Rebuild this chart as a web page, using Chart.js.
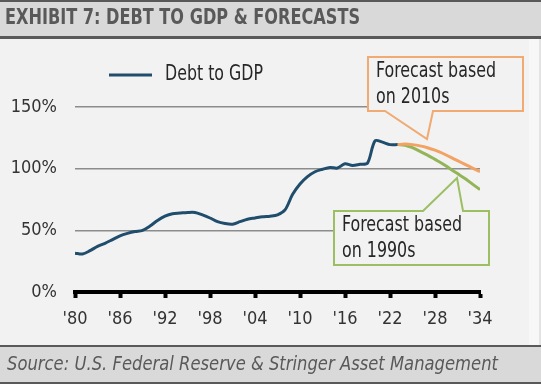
<!DOCTYPE html>
<html lang="en">
<head>
    <meta charset="UTF-8">
    <title>Debt to GDP &amp; Forecasts</title>
    <script src="https://cdn.jsdelivr.net/npm/chart.js"></script>
    <style>
        html, body { margin: 0; padding: 0; background: #f2f2f2; }
        #wrap { width: 541px; height: 384px; position: relative; }
    </style>
</head>
<body>
    <div id="wrap"><canvas id="debtChart" width="541" height="384"></canvas></div>

    <script>
        const FONT = '"Liberation Sans Narrow", "DejaVu Sans Condensed", "Roboto", sans-serif';

        // data
        const years = [1980, 1981, 1982, 1983, 1984, 1985, 1986, 1987, 1988, 1989,
                       1990, 1991, 1992, 1993, 1994, 1995, 1996, 1997, 1998, 1999,
                       2000, 2001, 2002, 2003, 2004, 2005, 2006, 2007, 2008, 2009,
                       2010, 2011, 2012, 2013, 2014, 2015, 2016, 2017, 2018, 2019,
                       2020, 2021, 2022, 2023];
        const debtToGdp = [31.5, 30.8, 33.5, 37, 39.5, 42.5, 45.5, 47.5, 49, 50,
                           53.5, 58, 61.5, 63.5, 64, 64.5, 64.5, 62.5, 60, 57,
                           55.5, 55, 57, 59, 60, 61, 61.5, 62.5, 66.5, 79,
                           87.5, 93.5, 97.5, 99.5, 101, 100.5, 104, 102.5, 103.5, 104.5,
                           122.5, 121.5, 119.5, 119.5];

        const forecastYears = [2023, 2024, 2025, 2026, 2027, 2028, 2029, 2030, 2031, 2032, 2033, 2034];
        const forecast2010s = [119.5, 120, 119.5, 118.5, 117, 115, 112.5, 109.5, 106.5, 103.5, 100.5, 97.5];
        const forecast1990s = [119.5, 119, 117, 114, 111, 107.5, 104, 100, 96, 92, 87.5, 83];

        const xTickYears = [1980, 1986, 1992, 1998, 2004, 2010, 2016, 2022, 2028, 2034];
        const yTickValues = [0, 50, 100, 150];

        const toPoints = (xs, ys) => xs.map((x, i) => ({ x: x, y: ys[i] }));

        // the original uses a narrow face; squeeze text to the width it takes there
        function narrowText(c, text, x, y, width) {
            const sx = Math.min(1, width / c.measureText(text).width);
            c.save();
            c.translate(x, y);
            c.scale(sx, 1);
            c.fillText(text, 0, 0);
            c.restore();
        }

        // background, header, footer and legend
        const framePlugin = {
            id: 'frame',
            beforeDraw(chart) {
                const c = chart.ctx;
                const w = chart.width;
                c.save();
                c.fillStyle = '#f2f2f2';
                c.fillRect(0, 0, w, chart.height);
                c.fillStyle = '#f7f7f7';
                c.fillRect(529, 39, 10, 306);
                c.fillStyle = '#e3e3e3';
                c.fillRect(539, 39, 2, 306);

                // header band
                c.fillStyle = '#595959';
                c.fillRect(0, 0, w, 39);
                c.fillStyle = '#d9d9d9';
                c.fillRect(0, 2, w, 34);
                c.fillStyle = '#595959';
                c.font = 'bold 21px ' + FONT;
                c.textBaseline = 'middle';
                narrowText(c, 'EXHIBIT 7: DEBT TO GDP & FORECASTS', 5, 19, 355);

                // footer band
                c.fillStyle = '#595959';
                c.fillRect(0, 345, w, 39);
                c.fillStyle = '#d9d9d9';
                c.fillRect(0, 347, w, 35);
                c.fillStyle = '#595959';
                c.font = 'italic 20px ' + FONT;
                narrowText(c, 'Source: U.S. Federal Reserve & Stringer Asset Management', 7, 365, 491);

                // legend for the history line only
                const ds = chart.data.datasets[0];
                c.strokeStyle = ds.borderColor;
                c.lineWidth = 3;
                c.beginPath();
                c.moveTo(109, 75);
                c.lineTo(152, 75);
                c.stroke();
                c.fillStyle = '#262626';
                c.font = '21px ' + FONT;
                narrowText(c, ds.label, 165, 75, 98);
                c.restore();
            }
        };

        // callout boxes for the two forecasts
        function drawCallout(c, pts, color, lines, tx, ty) {
            c.beginPath();
            c.moveTo(pts[0][0], pts[0][1]);
            for (let i = 1; i < pts.length; i++) c.lineTo(pts[i][0], pts[i][1]);
            c.closePath();
            c.fillStyle = '#f2f2f2';
            c.fill();
            c.strokeStyle = color;
            c.lineWidth = 2;
            c.stroke();
            c.fillStyle = '#262626';
            c.font = '21px ' + FONT;
            c.textBaseline = 'middle';
            const sx = 120 / c.measureText(lines[0]).width;
            lines.forEach((t, i) => narrowText(c, t, tx, ty + i * 26, c.measureText(t).width * sx));
        }

        const calloutPlugin = {
            id: 'callouts',
            afterDatasetsDraw(chart) {
                const c = chart.ctx;
                c.save();
                drawCallout(c, [[368, 57], [523, 57], [523, 111], [433, 111], [427, 139], [385, 111], [368, 111]],
                    '#f0aa72', ['Forecast based', 'on 2010s'], 376, 72);
                drawCallout(c, [[334, 211], [423, 211], [457, 178], [463, 211], [489, 211], [489, 265], [334, 265]],
                    '#9cbf64', ['Forecast based', 'on 1990s'], 342, 226);
                c.restore();
            }
        };

        const ctx = document.getElementById('debtChart').getContext('2d');

        new Chart(ctx, {
            type: 'line',
            data: {
                datasets: [{
                    label: 'Debt to GDP',
                    data: toPoints(years, debtToGdp),
                    borderColor: '#1f4d6b',
                    borderWidth: 3,
                    pointRadius: 0,
                    tension: 0.3
                }, {
                    label: 'Forecast based on 2010s',
                    data: toPoints(forecastYears, forecast2010s),
                    borderColor: '#f2a263',
                    borderWidth: 3,
                    pointRadius: 0,
                    tension: 0.3
                }, {
                    label: 'Forecast based on 1990s',
                    data: toPoints(forecastYears, forecast1990s),
                    borderColor: '#93b558',
                    borderWidth: 3,
                    pointRadius: 0,
                    tension: 0.3
                }]
            },
            options: {
                responsive: false,
                animation: false,
                layout: { padding: { top: 107, right: 61, left: 0, bottom: 0 } },
                plugins: {
                    legend: { display: false },
                    tooltip: { enabled: false }
                },
                scales: {
                    x: {
                        type: 'linear',
                        min: 1980,
                        max: 2034,
                        afterFit: (s) => { s.height = 92; },
                        afterBuildTicks: (s) => { s.ticks = xTickYears.map(v => ({ value: v })); },
                        grid: {
                            drawOnChartArea: false,
                            drawTicks: true,
                            tickLength: 6,
                            tickWidth: 4,
                            tickColor: '#000000'
                        },
                        border: { display: true, color: '#000000', width: 4 },
                        ticks: {
                            color: '#333333',
                            font: { family: FONT, size: 18 },
                            padding: 11,
                            maxRotation: 0,
                            callback: (v) => "'" + String(v).slice(2)
                        }
                    },
                    y: {
                        min: 0,
                        max: 150,
                        afterFit: (s) => { s.width = 75; },
                        afterBuildTicks: (s) => { s.ticks = yTickValues.map(v => ({ value: v })); },
                        grid: {
                            color: (c) => c.tick.value === 0 ? 'rgba(0,0,0,0)' : '#8c8c8c',
                            lineWidth: 1.5,
                            drawTicks: false
                        },
                        border: { display: false },
                        ticks: {
                            color: '#333333',
                            font: { family: FONT, size: 18 },
                            padding: 18,
                            callback: (v) => v + '%'
                        }
                    }
                }
            },
            plugins: [framePlugin, calloutPlugin]
        });
    </script>
</body>
</html>
